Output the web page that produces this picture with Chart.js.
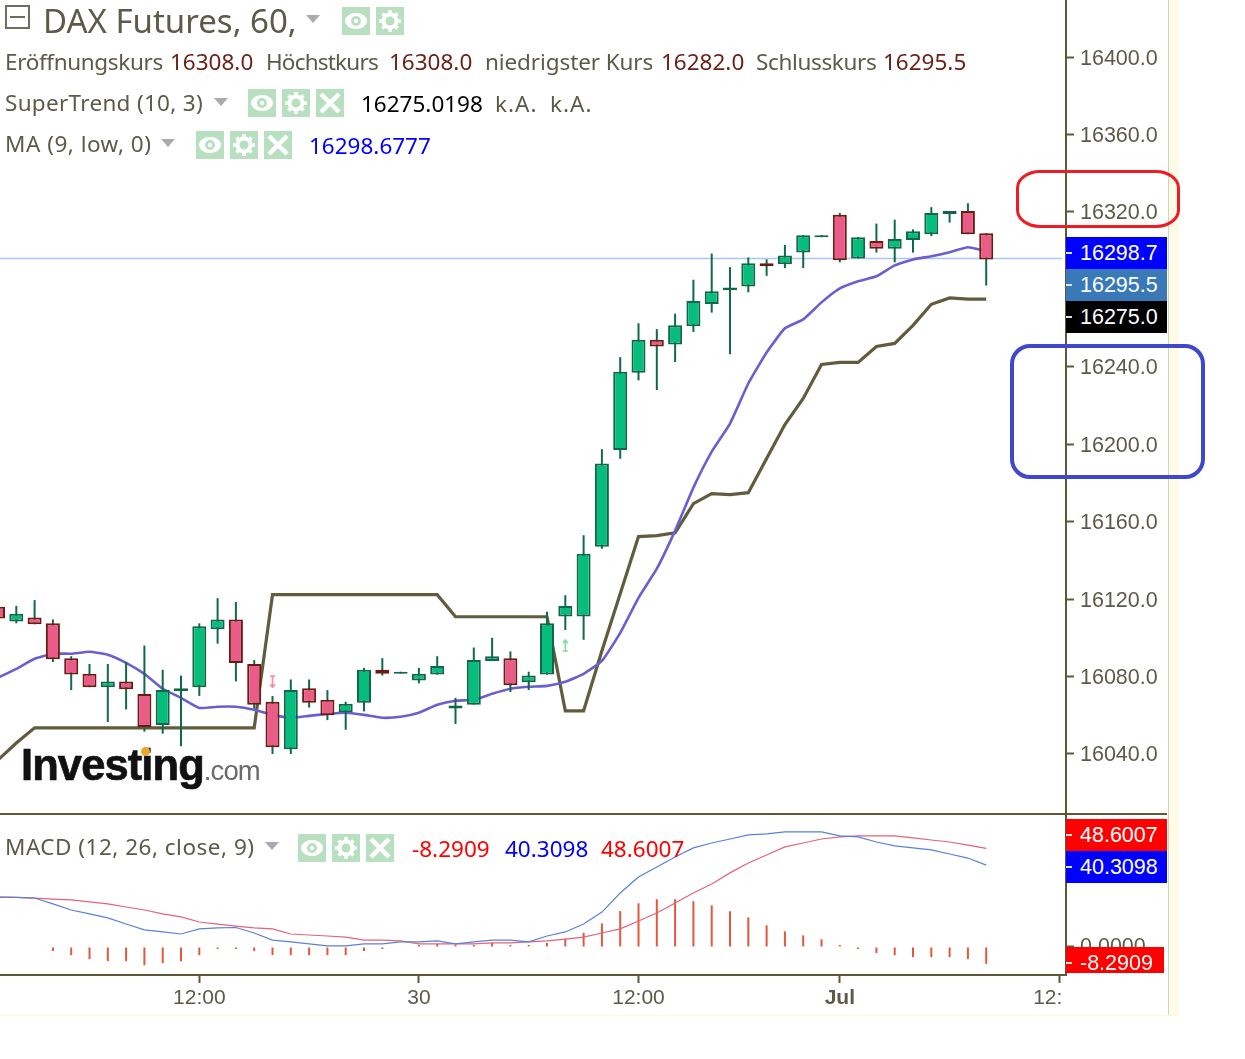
<!DOCTYPE html>
<html><head><meta charset="utf-8">
<script src="https://cdn.jsdelivr.net/npm/chart.js@4"></script>
<style>
html,body{margin:0;padding:0;background:#fff;overflow:hidden}
#stage{position:relative;width:1245px;height:1059px;background:#fff;overflow:hidden}
canvas{position:absolute;display:block}
.t{position:absolute;white-space:nowrap;line-height:1;transform:translateY(-50%);font-family:"Noto Sans",sans-serif;font-size:22.5px;color:#5c5a48}
.m{color:#6b2318}.k{color:#000}.b{color:#0000ff}.r{color:#ff0000}
.box{position:absolute;left:1066px;width:101px;height:32px;color:#fff;font:21.5px "Liberation Sans",sans-serif;line-height:32px;text-indent:14px}
.box:before{content:"";position:absolute;left:0;top:15px;width:6px;height:2px;background:#ddd}
.tri{position:absolute;width:0;height:0;border-left:7px solid transparent;border-right:7px solid transparent;border-top:8px solid #a9a9b2}
.ic{position:absolute;width:28px;height:28px;background:#b8dfc0}
.ann{position:absolute;box-sizing:border-box;background:transparent}
</style></head><body><div id="stage">
<canvas id="price" width="1167" height="814" style="left:0;top:0;width:1167px;height:814px"></canvas>
<canvas id="macd" width="1167" height="201" style="left:0;top:814px;width:1167px;height:201px"></canvas>
</div>
<script>
const opens  =[16116,16108.5,16110.5,16107.5,16089.5,16081.5,16074.5,16077.5,16071,16055,16072.5,16074.5,16104.5,16109.5,16086.5,16067,16042.5,16074,16068,16061.5,16066.5,16083.5,16081.5,16078,16081,16063.5,16065.5,16088,16089.5,16077,16081,16111,16111,16147,16197,16237,16254,16251.5,16261,16272.5,16279.5,16281.5,16293.5,16293,16299,16307,16318.5,16296,16305,16301,16305.5,16308.5,16319,16320.5,16309];
const highs  =[16116,16116.5,16119.5,16109.5,16090.5,16086.5,16086.5,16087.5,16096,16083.5,16080.5,16107.5,16120.5,16118.5,16088.5,16070,16078.5,16078.5,16073,16067,16084.5,16089.5,16082.5,16084.5,16090.5,16069,16095,16100,16093,16082.5,16113.5,16122,16153,16197.5,16245,16262.5,16259.5,16267.5,16285,16298.5,16291.5,16296.5,16295.5,16303,16308,16308,16319.5,16307,16314,16316,16311,16322.5,16320.5,16324.5,16309];
const lows   =[16110,16107.5,16107,16087.5,16073,16074.5,16056.5,16063,16051.5,16050.5,16044,16070,16097,16077.5,16063.5,16040,16040,16064,16057.5,16052.5,16062,16080.5,16081.5,16076.5,16081,16055.5,16065.5,16088,16072,16073,16081,16104,16099,16146,16192.5,16233,16228,16242.5,16258,16268,16246.5,16278.5,16287,16291,16291,16307,16294,16296,16299,16294,16299,16307.5,16314.5,16308.5,16282];
const closes =[16110,16112.5,16107,16089,16081,16074.5,16077.5,16073.5,16054,16073,16074,16106,16109.5,16087,16065.5,16043.5,16073,16066.5,16060,16066,16083.5,16081.5,16082.5,16081.5,16085.5,16065,16088.5,16090.5,16075.5,16080.5,16107.5,16116.5,16143.5,16190,16237.5,16254,16250.5,16261.5,16274,16279,16281,16293.5,16292,16297.5,16308,16308,16295,16307,16301,16306,16310,16319.5,16320.5,16308.5,16295.5];
const maLow  =[16079.4,16084,16089.2,16091.8,16091.8,16092.8,16091.3,16087.1,16081.4,16073.7,16069,16063.8,16064.4,16064.4,16062.8,16060.2,16058.7,16059.7,16060.7,16061.3,16060.2,16058.7,16059.2,16061.3,16065.4,16067.5,16068,16071.1,16073.7,16074.7,16075.2,16077.3,16081.4,16088.1,16102.6,16120.7,16135.7,16155.4,16177.6,16196.2,16210.7,16231.4,16247.4,16259.9,16264.5,16273.3,16280.5,16284.2,16286.8,16292.4,16295.5,16297.1,16299.2,16301.8,16299.7];
const superTrend=[16036.9,16045.7,16053.5,16053.5,16053.5,16053.5,16053.5,16053.5,16053.5,16053.5,16053.5,16053.5,16053.5,16053.5,16053.5,16122.3,16122.3,16122.3,16122.3,16122.3,16122.3,16122.3,16122.3,16122.3,16122.3,16110.9,16110.9,16110.9,16110.9,16110.9,16110.9,16062.3,16062.3,16093.3,16122.8,16152.3,16152.8,16154.3,16169.3,16174.5,16174,16175,16192.6,16210.2,16223.7,16241.2,16242.3,16242.3,16250.5,16252.1,16261.4,16272.3,16275.6,16275,16275];
const macdLine=[24.6,24.4,24.1,21.2,18.2,16.3,14.3,11.3,8.4,7.4,6.4,8.9,9.4,9.6,6.9,3.4,2.5,1.5,0.5,0.5,1.5,1.5,2.5,2.5,3,1.5,2.5,3.4,3.4,2.5,5.4,7.4,11.3,17.2,26.6,34.5,39.4,44.3,48.8,51.2,53.2,55.2,55.7,56.7,56.7,56.7,54.7,54.2,51.7,49.8,48.8,47.8,45.8,43.8,40.3098];
const signalLine=[24.6,24.4,24.1,23.6,23.2,22.2,21.2,19.7,18.2,16.3,14.8,12.3,11.3,10.3,9.4,8.9,6.4,5.9,5.4,4.9,3.4,3.4,3,1.5,1.5,1.5,1.5,2,2,2.5,3,3.9,4.9,6.9,8.9,12.8,16.7,21.7,26.6,31,36.5,41.4,45.3,49.3,51.2,53.2,54.2,54.7,54.7,54.7,53.7,52.7,51.7,50.2,48.6007];
const histogram=[null,null,null,-2,-4,-6,-7,-7,-9,-8,-7,-4,-1,-1,-2,-4,-4,-4,-4,-4,-2,-1,null,1,1.5,1,1,2,1,1,2,4,7,11.6,17.7,21.5,23.5,23.5,22.5,20.5,17.6,14.6,10.7,7.7,5.7,3.8,1,-1,-3,-4,-5,-5,-5,-6,-8.2909];
const priceTicks=[16040,16080,16120,16160,16200,16240,16280,16320,16360,16400];
const macdTicks=[0];
const timeTickPos=[11,23,35,46,58];
const timeTickLabels=["12:00","30","12:00","Jul","12:00"];
const lastClose=16296;
const signalUp=[{x:31,y:16096}];
const signalDown=[{x:15,y:16077.3}];

const INK="#5c5a48",AXIS="#5e5836",XMIN=0.109,XMAX=58.36;
Chart.defaults.animation=false;
Chart.defaults.devicePixelRatio=1;
const xy=a=>a.map((v,i)=>({x:i,y:v}));
const arrow=(col,up)=>{const c=document.createElement('canvas');c.width=7;c.height=13;const g=c.getContext('2d');g.strokeStyle=col;g.lineWidth=1.6;g.beginPath();g.moveTo(3.5,1);g.lineTo(3.5,12);if(up){g.moveTo(1,4);g.lineTo(3.5,1);g.lineTo(6,4);g.moveTo(1,12);g.lineTo(6,12);}else{g.moveTo(1,9);g.lineTo(3.5,12);g.lineTo(6,9);g.moveTo(1,1);g.lineTo(6,1);}g.stroke();return c;};
const xBase={type:'linear',min:XMIN,max:XMAX,offset:false};
const plugins={legend:{display:false},tooltip:{enabled:false}};
const layout={padding:0,autoPadding:false};
const noPad=s=>{s.paddingTop=0;s.paddingBottom=0;s.paddingLeft=0;s.paddingRight=0};
const yAxis=(min,max,ticks,fmt,lift)=>({type:'linear',position:'right',min,max,
  afterFit:s=>{s.width=101;noPad(s)},
  afterBuildTicks:s=>{s.ticks=ticks.map(v=>({value:v}))},
  grid:{drawOnChartArea:false,drawTicks:true,tickLength:8,tickColor:AXIS,tickWidth:2,offset:false},
  border:{display:true,color:AXIS,width:2},
  ticks:{autoSkip:false,padding:6,maxRotation:0,labelOffset:lift,color:INK,font:{family:"Liberation Sans",size:21.5},callback:fmt}});

new Chart(document.getElementById('price'),{type:'bar',
 data:{datasets:[
  {type:'line',data:[{x:XMIN,y:lastClose},{x:XMAX-0.2,y:lastClose}],borderColor:'#a8c8f2',borderWidth:1.5,pointRadius:0,order:6},
  {type:'line',data:xy(superTrend),borderColor:'#625c3e',borderWidth:3.2,pointRadius:0,order:5,borderJoinStyle:'miter'},
  {type:'line',data:xy(maLow),borderColor:'#6a5fd0',borderWidth:2.6,pointRadius:0,order:4,tension:0.15},
  {type:'bar',grouped:false,data:lows.map((l,i)=>({x:i,y:[l,highs[i]]})),backgroundColor:'#10694a',barThickness:2,borderWidth:0,inflateAmount:0,order:3},
  {type:'bar',grouped:false,data:opens.map((o,i)=>({x:i,y:[o,closes[i]]})),
   backgroundColor:closes.map((c,i)=>c>=opens[i]?'#06bd7d':'#ea5c88'),
   borderColor:closes.map((c,i)=>c>=opens[i]?'#11664a':'#6a1c10'),
   borderWidth:2,borderSkipped:false,barThickness:14,inflateAmount:0,order:2},
  {type:'line',data:signalUp,showLine:false,pointStyle:arrow('#7fd79a',true),pointRadius:6,order:1},
  {type:'line',data:signalDown,showLine:false,pointStyle:arrow('#f08aa0',false),pointRadius:6,order:1}
 ]},
 options:{responsive:false,maintainAspectRatio:false,layout,plugins,
  scales:{x:{...xBase,display:false},
   y:yAxis(16009,16429.5,priceTicks,v=>Number(v).toFixed(1),1.5)}}
});

new Chart(document.getElementById('macd'),{type:'bar',
 data:{datasets:[
  {type:'bar',grouped:false,data:xy(histogram),backgroundColor:'#e2583c',barThickness:2,borderWidth:0,inflateAmount:0,order:3},
  {type:'line',data:xy(signalLine),borderColor:'#e2637c',borderWidth:1.2,pointRadius:0,order:2},
  {type:'line',data:xy(macdLine),borderColor:'#5b80da',borderWidth:1.2,pointRadius:0,order:1}
 ]},
 options:{responsive:false,maintainAspectRatio:false,layout,plugins,
  scales:{
   x:{...xBase,afterFit:s=>{s.height=40;noPad(s)},
    afterBuildTicks:s=>{s.ticks=timeTickPos.map(v=>({value:v}))},
    grid:{drawOnChartArea:false,drawTicks:true,tickLength:8,tickColor:AXIS,tickWidth:2,offset:false},
    border:{display:true,color:AXIS,width:2},
    ticks:{autoSkip:false,maxRotation:0,padding:3,color:INK,
     font:c=>({family:"Liberation Sans",size:21,weight:timeTickLabels[timeTickPos.indexOf(c.tick&&c.tick.value)]==='Jul'?'bold':'normal'}),
     callback:v=>timeTickLabels[timeTickPos.indexOf(v)]}},
   y:yAxis(-13.8,65.5,macdTicks,v=>Number(v).toFixed(4),0)}}
});

const S=document.getElementById('stage');
const add=h=>S.insertAdjacentHTML('beforeend',h);
const T=(x,y,s,c='',st='')=>add(`<div class="t ${c}" style="left:${x}px;top:${y}px;${st}">${s}</div>`);
const ls=v=>`letter-spacing:${v}px`;
const tri=(x,y)=>add(`<div class="tri" style="left:${x}px;top:${y}px"></div>`);
const eye='<ellipse cx="14" cy="14" rx="11" ry="8" fill="#fff"/><circle cx="14" cy="14" r="5" fill="#b8dfc0"/><circle cx="14" cy="14" r="2.2" fill="#fff"/>';
const gear='<circle cx="14" cy="14" r="6.5" fill="none" stroke="#fff" stroke-width="4"/><g stroke="#fff" stroke-width="3.6"><path d="M14 3v5M14 20v5M3 14h5M20 14h5M6.5 6.5l3.5 3.5M18 18l3.5 3.5M21.5 6.5L18 10M10 18l-3.5 3.5"/></g>';
const cross='<path d="M5 5L23 23M23 5L5 23" stroke="#fff" stroke-width="4.5"/>';
const ic=(x,y,g)=>add(`<svg class="ic" style="left:${x}px;top:${y}px" viewBox="0 0 28 28">${g}</svg>`);

add('<div style="position:absolute;left:5px;top:5px;width:25px;height:24px;box-sizing:border-box;border:2px solid #6d6d5c"><div style="position:absolute;left:3px;right:3px;top:9px;height:2px;background:#6d6d5c"></div></div>');
T(43,20,'DAX Futures, 60,','','font-size:33px');
tri(306,15);ic(342,7,eye);ic(376,7,gear);
T(5,62,'Eröffnungskurs','',ls(-.35));T(170,62,'16308.0','m');T(266,62,'Höchstkurs','',ls(-.8));T(389,62,'16308.0','m');
T(485,62,'niedrigster Kurs','',ls(-.1));T(661,62,'16282.0','m');T(756,62,'Schlusskurs','',ls(-.35));T(883,62,'16295.5','m');
T(5,103,'SuperTrend (10, 3)','',ls(.3));tri(214,98);ic(248,89,eye);ic(282,89,gear);ic(316,89,cross);
T(361,104,'16275.0198','k');T(495,104,'k.A.','',ls(1));T(550,104,'k.A.','',ls(1));
T(5,144,'MA (9, low, 0)','',ls(.5));tri(161,139);ic(196,131,eye);ic(230,131,gear);ic(264,131,cross);
T(309,146,'16298.6777','b');
T(5,847,'MACD (12, 26, close, 9)','',ls(.5));tri(265,842);ic(298,834,eye);ic(332,834,gear);ic(366,834,cross);
T(412,849,'-8.2909','r');T(505,849,'40.3098','b');T(601,849,'48.6007','r');

// value flags on the right-hand scale
add('<div class="box" style="top:237px;background:#0000ff">16298.7</div>');
add('<div class="box" style="top:269px;background:#3a79b8">16295.5</div>');
add('<div class="box" style="top:301px;background:#000">16275.0</div>');
add('<div class="box" style="top:819px;background:#ff0000">48.6007</div>');
add('<div class="box" style="top:851px;background:#0000ff">40.3098</div>');
add('<div class="box" style="top:947px;height:26px;width:98px;line-height:32px;overflow:hidden;background:#ff0000">-8.2909</div>');

// pane divider, clipped time label and page edge
add(`<div style="position:absolute;left:0;top:813px;width:1167px;height:2px;background:${AXIS}"></div>`);
add('<div style="position:absolute;left:1063px;top:986px;width:60px;height:29px;background:#fff"></div>');
add('<div style="position:absolute;left:1168px;top:0;width:10px;height:1015px;background:#fffbe6;border-left:1px solid #c6dabb"></div>');
add('<div style="position:absolute;left:0;top:1015px;width:1178px;height:1px;background:#fff6d6"></div>');

// hand-drawn highlights
add('<div class="ann" style="left:1016px;top:170px;width:164px;height:58px;border:3.5px solid #ee1c25;border-radius:24px/18px"></div>');
add('<div class="ann" style="left:1010px;top:344px;width:195px;height:135px;border:4px solid #3f48cc;border-radius:20px"></div>');

// logo
add('<div style="position:absolute;left:21px;top:744px;font:bold 43.5px/1 \'Liberation Sans\',sans-serif;-webkit-text-stroke:.7px #111;letter-spacing:-.9px;color:#111;white-space:nowrap">Investing<span style="font:27.5px/1 \'Liberation Sans\',sans-serif;-webkit-text-stroke:0;letter-spacing:-.9px;color:#6a6a6a">.com</span></div>');
add('<div style="position:absolute;left:141px;top:747px;width:9px;height:9px;border-radius:50%;background:#e6a92a"></div>');
</script></body></html>
